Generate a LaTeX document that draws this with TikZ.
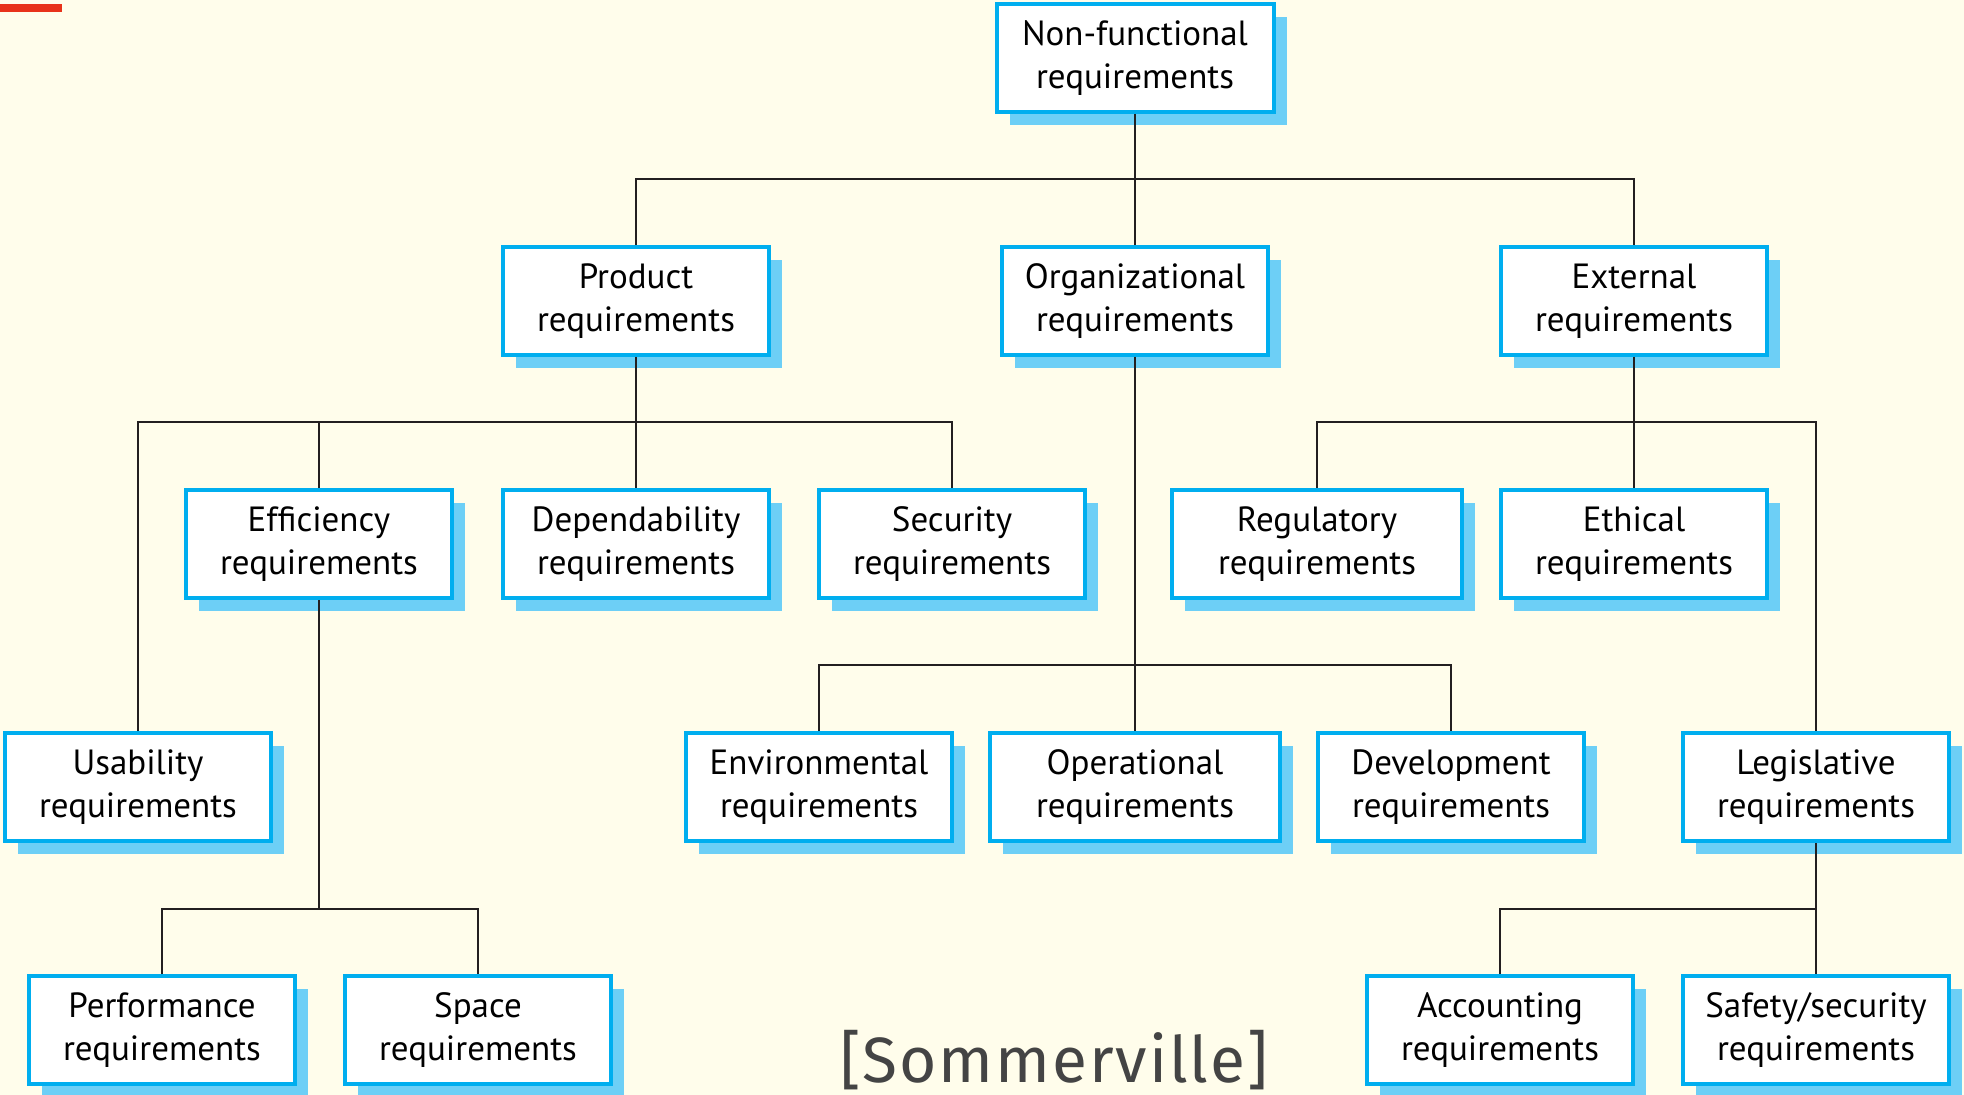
\documentclass[tikz,border=0pt]{standalone}
\usepackage{fontspec}
\setmainfont{PT Sans}
\newfontfamily\creditfont[LetterSpace=3]{Fira Sans}
\usetikzlibrary{calc,shadows}

\definecolor{paper}{RGB}{255,253,235}
\definecolor{reqblue}{RGB}{0,174,239}
\definecolor{shadeblue}{RGB}{109,207,246}
\definecolor{linegray}{RGB}{35,31,32}
\definecolor{markred}{RGB}{232,50,26}
\definecolor{creditgray}{RGB}{68,68,68}

\tikzset{
  req/.style={draw=reqblue, line width=2pt, fill=white, align=center,
    minimum width=133pt, minimum height=54pt, inner sep=0pt,
    font=\fontsize{17.5}{21.5}\selectfont,
    drop shadow={shadow xshift=6.5pt, shadow yshift=-6.5pt, fill=shadeblue, opacity=1}},
  wide/.style={minimum width=145pt},
  conn/.style={draw=linegray, line width=1pt},
}

\begin{document}
\begin{tikzpicture}[x=0.5pt, y=-0.5pt]
  \useasboundingbox (0,0) rectangle (1964,1095);
  \fill[paper] (0,0) rectangle (1964,1095);
  \fill[markred] (0,4) rectangle (62,12);

  % top
  \node[req, minimum width=138.5pt] (nfr) at (1135,58) {Non-functional\\requirements};

  % second level
  \node[req] (prod) at (636,301) {Product\\requirements};
  \node[req] (org) at (1135,301) {Organizational\\requirements};
  \node[req] (ext) at (1634,301) {External\\requirements};

  % third level
  \node[req] (eff) at (319,544) {Efficiency\\requirements};
  \node[req] (dep) at (636,544) {Dependability\\requirements};
  \node[req] (sec) at (952,544) {Security\\requirements};
  \node[req, wide] (reg) at (1317,544) {Regulatory\\requirements};
  \node[req] (eth) at (1634,544) {Ethical\\requirements};

  % fourth level
  \node[req] (use) at (138,787) {Usability\\requirements};
  \node[req] (env) at (819,787) {Environmental\\requirements};
  \node[req, wide] (ops) at (1135,787) {Operational\\requirements};
  \node[req] (dev) at (1451,787) {Development\\requirements};
  \node[req] (leg) at (1816,787) {Legislative\\requirements};

  % fifth level
  \node[req] (perf) at (162,1030) {Performance\\requirements};
  \node[req] (spc) at (478,1030) {Space\\requirements};
  \node[req] (acc) at (1500,1030) {Accounting\\requirements};
  \node[req] (saf) at (1816,1030) {Safety/security\\requirements};

  % non-functional branches
  \coordinate (b1) at ($(nfr.south)!.5!(org.north)$);
  \draw[conn] (nfr.south) -- (org.north);
  \draw[conn] (prod.north) -- (prod.north |- b1) -- (ext.north |- b1) -- (ext.north);

  % product branches
  \coordinate (b2) at ($(prod.south)!.5!(dep.north)$);
  \draw[conn] (prod.south) -- (dep.north);
  \draw[conn] (use.north) -- (use.north |- b2) -- (sec.north |- b2) -- (sec.north);
  \draw[conn] (eff.north) -- (eff.north |- b2);

  % external branches
  \coordinate (b3) at ($(ext.south)!.5!(eth.north)$);
  \draw[conn] (ext.south) -- (eth.north);
  \draw[conn] (reg.north) -- (reg.north |- b3) -- (leg.north |- b3) -- (leg.north);

  % organizational branches
  \coordinate (b4) at ($(sec.south)!.5!(ops.north)$);
  \draw[conn] (org.south) -- (ops.north);
  \draw[conn] (env.north) -- (env.north |- b4) -- (dev.north |- b4) -- (dev.north);

  % efficiency and legislative branches
  \coordinate (b5) at ($(use.south)!.5!(perf.north)$);
  \draw[conn] (eff.south) -- (eff.south |- b5);
  \draw[conn] (perf.north) -- (perf.north |- b5) -- (spc.north |- b5) -- (spc.north);
  \draw[conn] (leg.south) -- (saf.north);
  \draw[conn] (acc.north) -- (acc.north |- b5) -- (saf.north |- b5);

  \node[font=\creditfont\fontsize{32}{38}\selectfont, text=creditgray, anchor=base] (src) at (1054,1082) {[Sommerville]};
\end{tikzpicture}
\end{document}
